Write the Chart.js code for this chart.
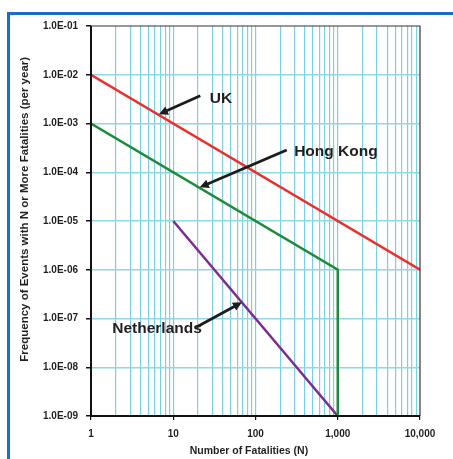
<!DOCTYPE html>
<html>
<head>
<meta charset="utf-8">
<script src="https://cdn.jsdelivr.net/npm/chart.js@4/dist/chart.umd.min.js"></script>
<style>
  html, body { margin: 0; padding: 0; background: #fff; }
  #wrap { position: relative; width: 453px; height: 459px; }
</style>
</head>
<body>
<div id="wrap"><canvas id="ctx"></canvas></div>
<script>
// F-N curves
var ukN = [1, 10000];
var ukFreq = [1e-2, 1e-6];
var hkN = [1, 1000, 1000];
var hkFreq = [1e-3, 1e-6, 1e-9];
var nlN = [10, 1000];
var nlFreq = [1e-5, 1e-9];

var yTicks = [1e-9, 1e-8, 1e-7, 1e-6, 1e-5, 1e-4, 1e-3, 1e-2, 1e-1];
var xDecades = [1, 10, 100, 1000, 10000];

var xTitle = 'Number of Fatalities (N)';
var yTitle = 'Frequency of Events with N or More Fatalities (per year)';

// labels with arrows, in data units: [text, textN, textF, tailN, tailF, headN, headF]
var notes = [
    ['UK', 38, 3.3e-3, 21.3, 3.7e-3, 6.7, 1.55e-3],
    ['Hong Kong', 950, 2.6e-4, 240, 2.85e-4, 21, 4.9e-5],
    ['Netherlands', 6.35, 6.1e-8, 19, 6.6e-8, 68.5, 2.15e-7]
];

function pts(xs, ys) {
    return xs.map(function (x, i) { return { x: x, y: ys[i] }; });
}

var xTicks = [];
xDecades.forEach(function (d, i) {
    if (i == xDecades.length - 1) { xTicks.push(d); return; }
    for (var k = 1; k < 10; k++) xTicks.push(d * k);
});

function isDecade(v) {
    return Math.abs(Math.log10(v) - Math.round(Math.log10(v))) < 1e-9;
}

var FONT = "'Liberation Sans', Arial, sans-serif";

var extras = {
    id: 'extras',
    beforeDraw: function (chart) {
        var c = chart.ctx;
        c.save();
        c.strokeStyle = '#1a6fc0';
        c.lineWidth = 3;
        c.beginPath();
        c.moveTo(8.5, 470);
        c.lineTo(8.5, 13.5);
        c.lineTo(470, 13.5);
        c.stroke();
        c.restore();
    },
    afterDraw: function (chart) {
        var c = chart.ctx, a = chart.chartArea;
        var xs = chart.scales.x, ys = chart.scales.y;
        c.save();
        c.strokeStyle = '#333';
        c.lineWidth = 1.2;
        c.beginPath();
        c.moveTo(a.left, a.top);
        c.lineTo(a.right, a.top);
        c.lineTo(a.right, a.bottom);
        c.stroke();
        c.strokeStyle = '#111';
        c.lineWidth = 2;
        c.beginPath();
        c.moveTo(a.left, a.top);
        c.lineTo(a.left, a.bottom);
        c.lineTo(a.right, a.bottom);
        c.stroke();

        // axis titles
        c.fillStyle = '#231f20';
        c.textAlign = 'center';
        c.textBaseline = 'middle';
        c.font = 'bold 10.5px ' + FONT;
        c.fillText(xTitle, a.left + (a.right - a.left) * 0.48, 451);
        c.save();
        c.translate(25, a.top + (a.bottom - a.top) * 0.47);
        c.rotate(-Math.PI / 2);
        c.font = 'bold 11.5px ' + FONT;
        c.fillText(yTitle, 0, 0);
        c.restore();

        notes.forEach(function (n) {
            var tx = xs.getPixelForValue(n[1]), ty = ys.getPixelForValue(n[2]);
            var x0 = xs.getPixelForValue(n[3]), y0 = ys.getPixelForValue(n[4]);
            var x1 = xs.getPixelForValue(n[5]), y1 = ys.getPixelForValue(n[6]);
            var ang = Math.atan2(y1 - y0, x1 - x0);
            var hl = 9, hw = 4.5;
            c.strokeStyle = '#1c1c1c';
            c.fillStyle = '#1c1c1c';
            c.lineWidth = 2.8;
            c.beginPath();
            c.moveTo(x0, y0);
            c.lineTo(x1 - Math.cos(ang) * hl * 0.8, y1 - Math.sin(ang) * hl * 0.8);
            c.stroke();
            c.beginPath();
            c.moveTo(x1, y1);
            c.lineTo(x1 - Math.cos(ang) * hl - Math.sin(ang) * hw, y1 - Math.sin(ang) * hl + Math.cos(ang) * hw);
            c.lineTo(x1 - Math.cos(ang) * hl + Math.sin(ang) * hw, y1 - Math.sin(ang) * hl - Math.cos(ang) * hw);
            c.closePath();
            c.fill();
            c.font = 'bold 15.5px ' + FONT;
            c.fillStyle = '#231f20';
            c.fillText(n[0], tx, ty);
        });
        c.restore();
    }
};

var ctx = document.getElementById("ctx").getContext('2d');

var myChart = new Chart(ctx, {
    type: 'scatter',
    data: {
        datasets: [{
            label: 'UK',
            data: pts(ukN, ukFreq),
            borderColor: '#ec2f2a',
            borderWidth: 2.5,
            showLine: true,
            pointRadius: 0
        }, {
            label: 'Hong Kong',
            data: pts(hkN, hkFreq),
            borderColor: '#1d8a3c',
            borderWidth: 2.5,
            showLine: true,
            pointRadius: 0
        }, {
            label: 'Netherlands',
            data: pts(nlN, nlFreq),
            borderColor: '#7b2c91',
            borderWidth: 2.5,
            showLine: true,
            pointRadius: 0
        }]
    },
    options: {
        responsive: true,
        maintainAspectRatio: false,
        animation: false,
        layout: { padding: { top: 26, right: 33, left: 0, bottom: 0 } },
        plugins: {
            legend: { display: false },
            tooltip: { enabled: false }
        },
        scales: {
            x: {
                type: 'logarithmic',
                min: 1,
                max: 10000,
                afterBuildTicks: function (s) {
                    s.ticks = xTicks.map(function (v) { return { value: v }; });
                },
                afterFit: function (s) { s.height = 43; },
                border: { display: false },
                grid: {
                    color: function (c) { return c.tick && (c.tick.value == 1 || c.tick.value == 10000) ? 'rgba(0,0,0,0)' : '#7ccfe1'; },
                    tickColor: function (c) { return c.tick && isDecade(c.tick.value) ? '#111' : 'rgba(0,0,0,0)'; },
                    tickLength: 4,
                    lineWidth: 1.2
                },
                ticks: {
                    autoSkip: false,
                    maxRotation: 0,
                    padding: 8,
                    color: '#231f20',
                    font: { family: FONT, size: 10, weight: 'bold' },
                    callback: function (v) {
                        return isDecade(v) ? Number(v).toLocaleString('en-US') : '';
                    }
                }
            },
            y: {
                type: 'logarithmic',
                min: 1e-9,
                max: 1e-1,
                afterBuildTicks: function (s) {
                    s.ticks = yTicks.map(function (v) { return { value: v }; });
                },
                afterFit: function (s) { s.width = 91; },
                border: { display: false },
                grid: {
                    color: function (c) { return c.tick && (c.tick.value == 1e-9 || c.tick.value == 1e-1) ? 'rgba(0,0,0,0)' : '#8fd8e6'; },
                    tickColor: '#111',
                    tickLength: 5,
                    lineWidth: 1.5
                },
                ticks: {
                    autoSkip: false,
                    padding: 8,
                    color: '#231f20',
                    font: { family: FONT, size: 10, weight: 'bold' },
                    callback: function (v) {
                        var e = Math.round(Math.log10(v));
                        var a = Math.abs(e);
                        return '1.0E' + (e < 0 ? '-' : '+') + (a < 10 ? '0' : '') + a;
                    }
                }
            }
        }
    },
    plugins: [extras]
});
</script>
</body>
</html>
